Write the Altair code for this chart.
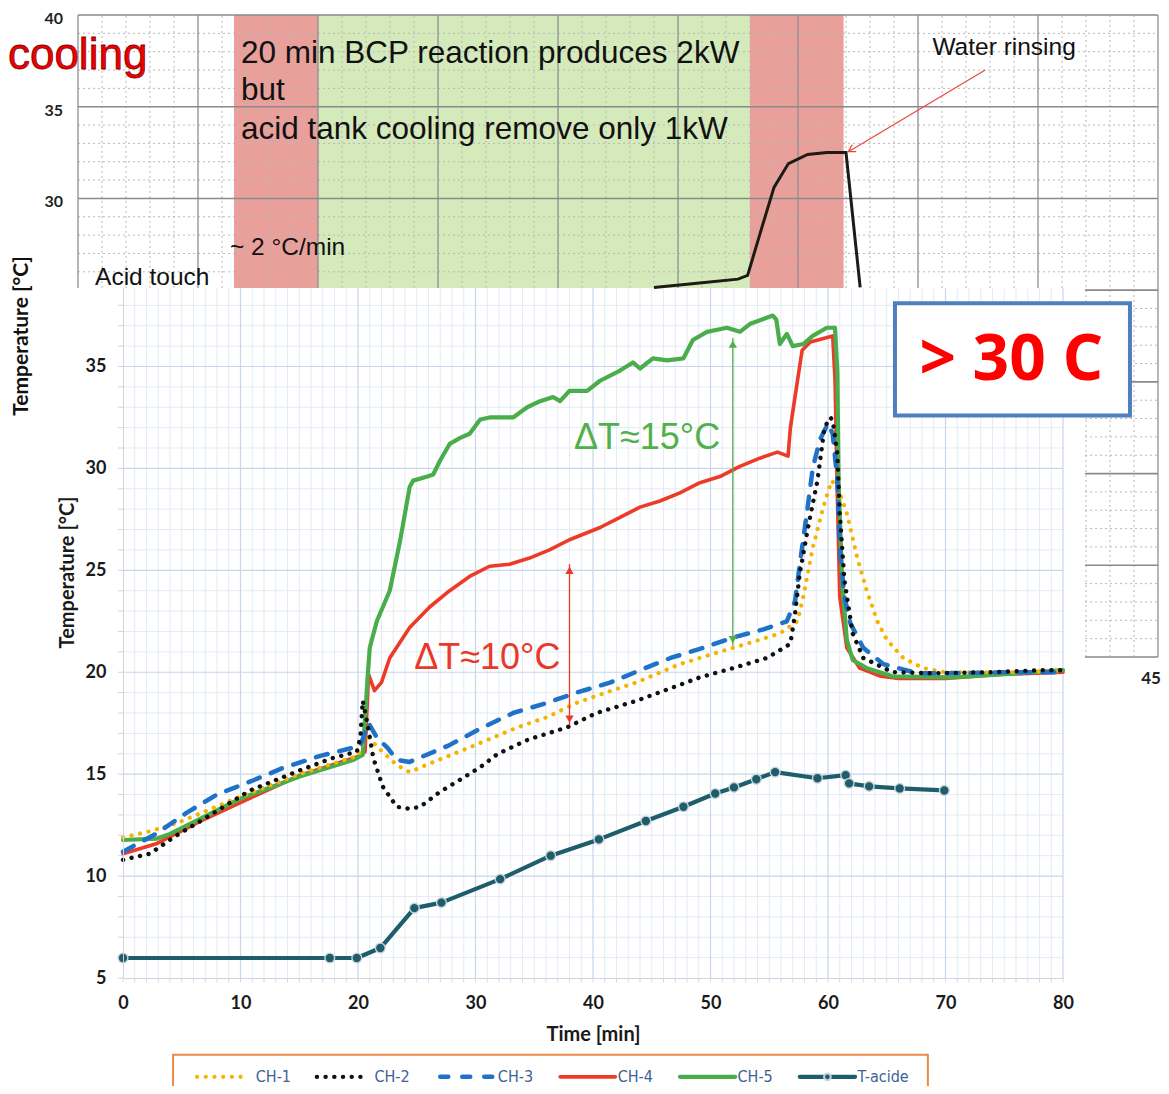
import altair as alt
import pandas as pd

# ---------------- lower chart: probe temperatures (Time [min] -> Temperature [°C]) ----------------
ch1_t = [0, 2.3, 4.6, 10, 15, 20.0, 20.6, 21.7, 23.3, 24.4, 26.0, 28.6, 31.1, 33.6, 36.1, 38.6, 41.1, 43.7, 47.4, 50.2,
         53.1, 55.9, 57.4, 57.9, 58.7, 59.6, 60.3, 60.8, 61.6, 62.5, 63.3, 64.2, 65.0, 66.4, 68.1, 70, 75, 80]
ch1_v = [11.9, 12.2, 12.6, 13.9, 15.0, 15.9, 17.0, 16.3, 15.45, 15.1, 15.5, 16.1, 16.7, 17.3, 17.8, 18.5, 19.0, 19.5, 20.4, 20.9,
         21.4, 21.9, 22.5, 23.7, 26.1, 28.1, 29.4, 29.1, 27.8, 25.6, 24.0, 22.5, 21.6, 20.7, 20.2, 20.0, 20.0, 20.05]

ch2_t = [0, 2.3, 4.3, 6.6, 10.8, 15.1, 17.9, 19.9, 20.2, 20.4, 20.8, 21.3, 22.1, 23.3, 24.4, 25.3, 26.9, 28.6, 30.3, 31.9,
         34.5, 37.8, 40.3, 43.7, 47.0, 49.1, 51.9, 54.8, 56.8, 57.2, 57.6, 58.3, 59.1, 59.7, 60.2, 60.4, 60.8, 61.0, 61.4, 62.1,
         63.0, 65.5, 68.9, 73.8, 78.3, 80]
ch2_v = [10.8, 11.1, 11.9, 12.7, 14.2, 15.2, 15.8, 16.1, 16.8, 18.6, 17.5, 15.8, 14.4, 13.4, 13.3, 13.4, 14.1, 14.7, 15.3, 16.0,
         16.7, 17.3, 18.0, 18.6, 19.3, 19.75, 20.2, 20.7, 21.4, 22.9, 24.85, 27.1, 29.4, 32.0, 32.5, 32.35, 30.7, 27.8, 24.5, 21.9,
         20.7, 20.0, 19.95, 20.0, 20.1, 20.1]

ch3_t = [0, 2.9, 5.4, 8, 11.1, 13.6, 16.8, 19.6, 20.2, 20.9, 21.6, 22.5, 23.3, 24.4, 27.7, 30.3, 33.2, 36.1, 38.6, 41.5,
         44.0, 46.6, 49.4, 51.9, 54.5, 56.5, 57.2, 57.6, 58.2, 58.7, 59.3, 60.0, 60.4, 60.8, 61.0, 61.4, 61.9, 63.0, 64.7, 67.6,
         70.4, 75, 80]
ch3_v = [11.2, 12.1, 13.1, 14.0, 14.7, 15.3, 15.9, 16.3, 16.4, 17.5, 16.8, 16.3, 15.7, 15.6, 16.4, 17.2, 18.0, 18.5, 19.0, 19.5,
         20.1, 20.7, 21.2, 21.7, 22.1, 22.5, 23.5, 25.3, 27.8, 30.0, 31.4, 32.2, 31.7, 29.4, 26.1, 23.7, 22.4, 21.2, 20.4, 19.95,
         19.95, 20.0, 20.0]

ch4_t = [0, 2.9, 6.6, 11.1, 15.1, 20.2, 20.6, 20.9, 21.4, 22.0, 22.7, 24.4, 26.1, 27.8, 29.5, 31.2, 32.9, 34.6, 36.3, 38.0,
         40.6, 42.3, 44.0, 45.7, 47.4, 49.1, 50.8, 52.5, 54.2, 55.7, 56.6, 56.8, 57.4, 57.8, 58.5, 60.4, 60.6, 60.8, 61.0, 61.6,
         62.7, 64.5, 66, 70, 75, 80]
ch4_v = [11.1, 11.6, 12.7, 13.9, 14.95, 15.9, 16.1, 19.9, 19.1, 19.5, 20.7, 22.2, 23.2, 24.0, 24.7, 25.2, 25.3, 25.6, 26.0, 26.5,
         27.1, 27.6, 28.1, 28.4, 28.8, 29.3, 29.6, 30.1, 30.5, 30.8, 30.6, 32.0, 34.3, 35.8, 36.2, 36.5, 34.3, 28.6, 23.7, 21.2,
         20.2, 19.8, 19.7, 19.7, 19.9, 20.0]

ch5_t = [0, 2.9, 4, 10, 15.1, 19.6, 20.4, 20.8, 21.0, 21.6, 22.7, 23.6, 24.4, 24.7, 25.9, 26.4, 27.0, 27.8, 28.7, 29.5,
         30.4, 31.2, 33.2, 34.4, 35.5, 36.6, 37.2, 38.0, 39.5, 40.6, 42.3, 43.4, 44.0, 45.1, 46.3, 47.7, 48.5, 49.7, 51.4, 52.5,
         53.4, 55.3, 55.6, 55.9, 56.5, 57.0, 57.9, 58.7, 59.9, 60.6, 60.8, 60.9, 61.2, 61.6, 62.1, 63.3, 65.5, 70.4, 75, 80]
ch5_v = [11.77, 11.84, 12.07, 13.8, 14.9, 15.7, 15.95, 19.6, 21.2, 22.5, 24.0, 26.5, 29.1, 29.4, 29.6, 29.7, 30.4, 31.2, 31.5, 31.7,
         32.4, 32.5, 32.5, 33.0, 33.3, 33.5, 33.3, 33.8, 33.8, 34.3, 34.8, 35.2, 34.9, 35.4, 35.3, 35.4, 36.3, 36.7, 36.9, 36.7,
         37.1, 37.5, 37.3, 36.1, 36.6, 36.0, 36.1, 36.5, 36.9, 36.9, 34.7, 29.4, 24.5, 21.6, 20.6, 20.2, 19.8, 19.75, 19.9, 20.1]

tacid_t = [0, 17.6, 19.9, 21.9, 24.8, 27.1, 32.1, 36.4, 40.5, 44.5, 47.7, 50.4, 52.0, 53.9, 55.5, 59.1, 61.5, 61.8, 63.5, 66.1, 69.9]
tacid_v = [5.98, 5.98, 5.98, 6.47, 8.43, 8.7, 9.85, 11.0, 11.8, 12.7, 13.4, 14.05, 14.35, 14.75, 15.1, 14.8, 14.95, 14.55, 14.4, 14.3, 14.2]

x_ticks = [0, 10, 20, 30, 40, 50, 60, 70, 80]
y_ticks = [5, 10, 15, 20, 25, 30, 35]

# ---------------- upper (background) chart data, in its own units ----------------
band_start = [6.5, 10.0, 28.0]
band_end = [10.0, 28.0, 31.9]
band_kind = ["acid", "reaction", "acid"]

bg_curve_t = [24.0, 26.0, 27.5, 27.9, 28.4, 29.0, 29.6, 30.4, 31.2, 32.0, 32.59]
bg_curve_v = [25.15, 25.4, 25.6, 25.8, 28.0, 30.6, 31.9, 32.4, 32.5, 32.5, 25.15]
bg_y_labels = [40, 35, 30]

# linear map of the background chart frame onto the lower chart frame (it sits offset behind it)
T_A, T_B = 2.04255, -3.8298
V_A, V_B = 0.89987, 16.248
BG_VISIBLE_V = 25.12     # background chart is hidden below this level
BG_STRIP_T = 41.96       # ... except for a strip to the right of the lower chart

# ---------------- scales ----------------
X_MAIN = alt.Scale(domain=[0, 80], nice=False, zero=False)
Y_MAIN = alt.Scale(domain=[5, 38.85], nice=False, zero=False)


def mx(f):
    return alt.X(f"{f}:Q", scale=X_MAIN)


def my(f):
    return alt.Y(f"{f}:Q", scale=Y_MAIN)


def bg_chart(df, tfields=(), vfields=()):
    calc = {}
    for f in tfields:
        calc[f + "_m"] = f"{T_A} * datum['{f}'] + ({T_B})"
    for f in vfields:
        calc[f + "_m"] = f"{V_A} * datum['{f}'] + ({V_B})"
    return alt.Chart(df).transform_calculate(**calc)


SANS = "Liberation Sans, Arial, sans-serif"
BOLD_AX = "Lato, Open Sans, sans-serif"

# ================= axes (explicit settings win over the other layers' defaults) =================
axis_layer = alt.Chart(pd.DataFrame({"t": [0, 80], "v": [5, 5]})).mark_point(opacity=0).encode(
    x=alt.X("t:Q", scale=X_MAIN, axis=alt.Axis(
        title="Time [min]", values=x_ticks, grid=False, ticks=False, zindex=1, domainColor="#cdd6e0",
        labelFlush=False,
        labelFont=BOLD_AX, labelFontWeight="bold", labelFontSize=18, labelColor="#1a1a1a", labelPadding=16,
        titleFont=BOLD_AX, titleFontWeight="bold", titleFontSize=20, titleColor="#1a1a1a", titlePadding=12)),
    y=alt.Y("v:Q", scale=Y_MAIN, axis=alt.Axis(
        title="Temperature [°C]", values=y_ticks, grid=False, ticks=False, zindex=1, domainColor="#cdd6e0",
        labelFlush=False,
        labelFont=BOLD_AX, labelFontWeight="bold", labelFontSize=18, labelColor="#1a1a1a", labelPadding=17,
        titleFont=BOLD_AX, titleFontWeight="bold", titleFontSize=20, titleColor="#1a1a1a",
        titleX=-56, titleY=284, titleAlign="center", titleBaseline="middle")),
)

# ================= upper background chart =================
bands = pd.DataFrame({"t0": band_start, "t1": band_end, "kind": band_kind, "top": 40, "bot": BG_VISIBLE_V})
band_layer = bg_chart(bands, ["t0", "t1"], ["top", "bot"]).mark_rect().encode(
    x=mx("t0_m"), x2="t1_m", y=my("top_m"), y2="bot_m",
    color=alt.Color("kind:N", scale=alt.Scale(domain=["acid", "reaction"], range=["#e9a09b", "#d5eaba"]), legend=None),
)

top_minutes = list(range(0, 46))
top_degrees = list(range(5, 41))


def v_rules(minutes):
    return pd.DataFrame({
        "t": minutes,
        "a": [5 if m >= BG_STRIP_T else BG_VISIBLE_V for m in minutes],
        "b": 40,
    })


def h_rules(degrees):
    return pd.DataFrame({
        "v": degrees,
        "a": [0 if d >= BG_VISIBLE_V else BG_STRIP_T for d in degrees],
        "b": 45,
    })


tv_minor = v_rules([m for m in top_minutes if m % 5])
tv_major = v_rules([m for m in top_minutes if m % 5 == 0])
th_minor = h_rules([d for d in top_degrees if d % 5])
th_major = h_rules([d for d in top_degrees if d % 5 == 0])

tv_minor_l = bg_chart(tv_minor, ["t"], ["a", "b"]).mark_rule(color="#b8b8b8", strokeWidth=1, strokeDash=[2, 3]).encode(
    x=mx("t_m"), y=my("a_m"), y2="b_m")
tv_major_l = bg_chart(tv_major, ["t"], ["a", "b"]).mark_rule(color="#8f8f8f", strokeWidth=1.3).encode(
    x=mx("t_m"), y=my("a_m"), y2="b_m")
th_minor_l = bg_chart(th_minor, ["a", "b"], ["v"]).mark_rule(color="#b8b8b8", strokeWidth=1, strokeDash=[2, 3]).encode(
    y=my("v_m"), x=mx("a_m"), x2="b_m")
th_major_l = bg_chart(th_major, ["a", "b"], ["v"]).mark_rule(color="#8a8a8a", strokeWidth=1.6).encode(
    y=my("v_m"), x=mx("a_m"), x2="b_m")

bg_curve = bg_chart(pd.DataFrame({"t": bg_curve_t, "v": bg_curve_v}), ["t"], ["v"]).mark_line(
    color="#1e1a16", strokeWidth=3).encode(x=mx("t_m"), y=my("v_m"))

rinse_arrow = bg_chart(pd.DataFrame({"t0": [37.8], "v0": [37.0], "t1": [32.1], "v1": [32.55]}),
                       ["t0", "t1"], ["v0", "v1"]).mark_rule(color="#e8473c", strokeWidth=1.2).encode(
    x=mx("t0_m"), y=my("v0_m"), x2="t1_m", y2="v1_m")
rinse_head = bg_chart(pd.DataFrame({"t": [32.1], "v": [32.55]}), ["t"], ["v"]).mark_point(
    shape="M -0.6 1 L 0 0 L 0.6 1", filled=False, stroke="#e8473c", strokeWidth=1.3, size=180, angle=239, opacity=1
).encode(x=mx("t_m"), y=my("v_m"))

top_text_rows = pd.DataFrame({
    "t": [6.79, 6.79, 6.79],
    "v": [37.38, 35.37, 33.25],
    "label": ["20 min BCP reaction produces 2kW", "but", "acid tank cooling remove only 1kW"],
})
top_text = bg_chart(top_text_rows, ["t"], ["v"]).mark_text(
    align="left", baseline="alphabetic", font=SANS, fontSize=31.5, color="#111111").encode(
    x=mx("t_m"), y=my("v_m"), text="label:N")

small_notes = pd.DataFrame({
    "t": [6.33, 0.71, 35.6],
    "v": [26.92, 25.28, 37.82],
    "label": ["~ 2 °C/min", "Acid touch", "Water rinsing"],
})
small_text = bg_chart(small_notes, ["t"], ["v"]).mark_text(
    align="left", baseline="alphabetic", font=SANS, fontSize=24.5, color="#111111").encode(
    x=mx("t_m"), y=my("v_m"), text="label:N")

cooling_text = bg_chart(pd.DataFrame({"t": [-2.92], "v": [37.08], "label": ["cooling"]}), ["t"], ["v"]).mark_text(
    align="left", baseline="alphabetic", font=SANS, fontSize=44, fill="#ee0000", stroke="#8a0000",
    strokeWidth=0.8).encode(x=mx("t_m"), y=my("v_m"), text="label:N")

top_ylab = bg_chart(pd.DataFrame({"v": bg_y_labels, "t": -0.62}), ["t"], ["v"]).mark_text(
    align="right", baseline="middle", dy=4, font=BOLD_AX, fontWeight="bold", fontSize=16, color="#222222").encode(
    x=mx("t_m"), y=my("v_m"), text=alt.Text("v:Q"))
top_xlab = bg_chart(pd.DataFrame({"t": [45], "v": [5]}), ["t"], ["v"]).mark_text(
    align="center", baseline="top", dy=14, dx=-7, font=BOLD_AX, fontWeight="bold", fontSize=17, color="#222222").encode(
    x=mx("t_m"), y=my("v_m"), text=alt.Text("t:Q"))
top_ytitle = bg_chart(pd.DataFrame({"t": [-2.33], "v": [22.5], "label": ["Temperature [°C]"]}), ["t"], ["v"]).mark_text(
    align="center", baseline="middle", angle=270, font=BOLD_AX, fontWeight="bold", fontSize=21, color="#111111").encode(
    x=mx("t_m"), y=my("v_m"), text="label:N")

top_layers = [
    band_layer, tv_minor_l, th_minor_l, tv_major_l, th_major_l, bg_curve, rinse_arrow, rinse_head,
    top_text, small_text, cooling_text, top_ylab, top_xlab, top_ytitle,
]

# ================= lower main chart =================
minutes = list(range(0, 81))
degrees = list(range(5, 39))
gx_minor = alt.Chart(pd.DataFrame({"t": [m for m in minutes if m % 10]})).mark_rule(
    color="#e3ebf6", strokeWidth=1).encode(x=mx("t"))
gy_minor = alt.Chart(pd.DataFrame({"v": [d for d in degrees if d % 5]})).mark_rule(
    color="#e3ebf6", strokeWidth=1).encode(y=my("v"))
gx_major = alt.Chart(pd.DataFrame({"t": [m for m in minutes if m % 10 == 0 and m > 0]})).mark_rule(
    color="#c6d6ec", strokeWidth=1.2).encode(x=mx("t"))
gy_major = alt.Chart(pd.DataFrame({"v": [d for d in degrees if d % 5 == 0 and d > 5]})).mark_rule(
    color="#c6d6ec", strokeWidth=1.2).encode(y=my("v"))
# short minor tick marks along both axes (one per minute / per degree)
x_minor_ticks = alt.Chart(pd.DataFrame({"t": minutes, "a": 5.0, "b": 4.8})).mark_rule(
    color="#cdd9e8", strokeWidth=1).encode(x=mx("t"), y=my("a"), y2="b")
y_minor_ticks = alt.Chart(pd.DataFrame({"v": degrees, "a": 0.0, "b": -0.42})).mark_rule(
    color="#cdd6e0", strokeWidth=1).encode(y=my("v"), x=mx("a"), x2="b")

styles = {
    "CH-1": dict(color="#f5b400", strokeWidth=4.2, strokeDash=[0.1, 8.6]),
    "CH-2": dict(color="#111111", strokeWidth=4.4, strokeDash=[0.1, 8.6]),
    "CH-3": dict(color="#1f72c8", strokeWidth=4.5, strokeDash=[12, 12]),
    "CH-4": dict(color="#ec3b27", strokeWidth=3.6),
    "CH-5": dict(color="#4aad4c", strokeWidth=4.2),
    "T-acide": dict(color="#1d5d6c", strokeWidth=4.2),
}
TACID_POINT = alt.OverlayMarkDef(filled=True, fill="#1d5d6c", stroke="#c9d4d8", strokeWidth=1.4, size=95, opacity=1)

series_data = {
    "CH-1": (ch1_t, ch1_v), "CH-2": (ch2_t, ch2_v), "CH-3": (ch3_t, ch3_v),
    "CH-4": (ch4_t, ch4_v), "CH-5": (ch5_t, ch5_v), "T-acide": (tacid_t, tacid_v),
}
draw_order = ["T-acide", "CH-4", "CH-5", "CH-1", "CH-3", "CH-2"]
line_layers = []
for name in draw_order:
    t, v = series_data[name]
    extra = {"point": TACID_POINT} if name == "T-acide" else {}
    line_layers.append(
        alt.Chart(pd.DataFrame({"t": t, "v": v})).mark_line(
            strokeCap="round", strokeJoin="round", **styles[name], **extra).encode(x=mx("t"), y=my("v"))
    )

# delta-T annotations
GREEN = "#52b04c"
RED = "#e8392a"
arrows = pd.DataFrame({"t": [51.9, 38.0], "lo": [21.3, 17.4], "hi": [36.4, 25.3], "c": [GREEN, RED]})
arrow_lines = alt.Chart(arrows).mark_rule(strokeWidth=1.3).encode(
    x=mx("t"), y=my("lo"), y2="hi", color=alt.Color("c:N", scale=None))
arrow_up = alt.Chart(arrows).transform_calculate(p="datum.hi - 0.3").mark_point(
    shape="triangle-up", filled=True, size=70, opacity=1).encode(
    x=mx("t"), y=my("p"), color=alt.Color("c:N", scale=None))
arrow_dn = alt.Chart(arrows).transform_calculate(p="datum.lo + 0.3").mark_point(
    shape="triangle-down", filled=True, size=70, opacity=1).encode(
    x=mx("t"), y=my("p"), color=alt.Color("c:N", scale=None))

dt_notes = pd.DataFrame({"t": [44.6, 31.0], "v": [31.5, 20.7], "label": ["ΔT≈15°C", "ΔT≈10°C"], "c": [GREEN, RED]})
dt_text = alt.Chart(dt_notes).mark_text(align="center", baseline="middle", font=SANS, fontSize=36).encode(
    x=mx("t"), y=my("v"), text="label:N", color=alt.Color("c:N", scale=None))

box = alt.Chart(pd.DataFrame({"x0": [65.7], "x1": [85.7], "y0": [38.1], "y1": [32.6]})).mark_rect(
    fill="white", stroke="#4f7fbf", strokeWidth=4).encode(x=mx("x0"), x2="x1", y=my("y0"), y2="y1")
box_text = alt.Chart(pd.DataFrame({"t": [75.6], "v": [35.25], "label": ["> 30 C"]})).mark_text(
    align="center", baseline="middle", font="Open Sans, Noto Sans, sans-serif", fontWeight="bold", fontSize=64,
    color="#ff0000").encode(x=mx("t"), y=my("v"), text="label:N")

# manual legend (layout in data units of the lower chart)
legend_names = ["CH-1", "CH-2", "CH-3", "CH-4", "CH-5", "T-acide"]
legend_x0 = [6.3, 16.5, 27.0, 37.2, 47.4, 57.6]
legend_x1 = [10.4, 20.6, 31.6, 41.9, 52.1, 62.3]
legend_lab = [11.3, 21.4, 31.9, 42.1, 52.3, 62.5]
LEG_Y = 0.15

legend_box = alt.Chart(pd.DataFrame({"x0": [4.26], "x1": [68.5], "y0": [1.23], "y1": [-1.6]})).mark_rect(
    fill="white", stroke="#ea8a45", strokeWidth=2).encode(x=mx("x0"), x2="x1", y=my("y0"), y2="y1")
legend_layers = [legend_box]
for name, a, b in zip(legend_names, legend_x0, legend_x1):
    st = dict(styles[name])
    if name == "CH-3":
        st["strokeDash"] = [8, 14]
    legend_layers.append(
        alt.Chart(pd.DataFrame({"a": [a], "b": [b], "y": [LEG_Y]})).mark_rule(strokeCap="round", **st).encode(
            x=mx("a"), x2="b", y=my("y"))
    )
legend_layers.append(
    alt.Chart(pd.DataFrame({"t": [(legend_x0[5] + legend_x1[5]) / 2], "y": [LEG_Y]})).mark_point(
        filled=True, fill="#1d5d6c", stroke="#c9d4d8", size=45, opacity=1).encode(x=mx("t"), y=my("y"))
)
legend_layers.append(
    alt.Chart(pd.DataFrame({"t": legend_lab, "y": LEG_Y, "label": legend_names})).mark_text(
        align="left", baseline="middle", font="DejaVu Sans Condensed, Liberation Sans Narrow, sans-serif",
        fontSize=16, color="#3c6391").encode(x=mx("t"), y=my("y"), text="label:N")
)

chart = alt.layer(
    axis_layer, *top_layers, gx_minor, gy_minor, gx_major, gy_major, x_minor_ticks, y_minor_ticks, *line_layers,
    arrow_lines, arrow_up, arrow_dn, dt_text, box, box_text, *legend_layers,
).properties(
    width=940, height=690,
    autosize=alt.AutoSizeParams(type="none"),
    padding={"left": 115, "top": 280, "right": 98, "bottom": 108},
).configure_view(stroke=None)

chart.save("out.html", embed_options={"renderer": "svg", "actions": False})
